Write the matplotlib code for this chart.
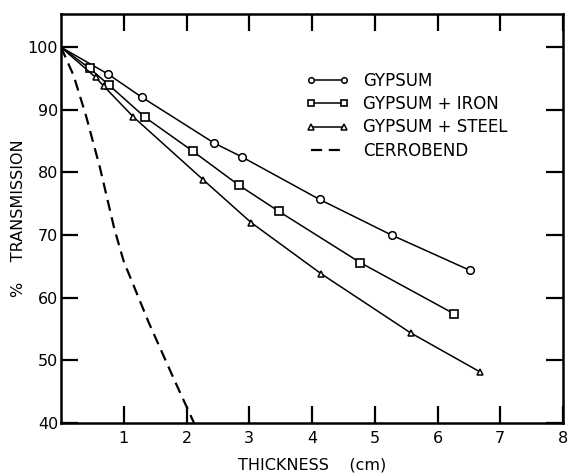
import matplotlib
matplotlib.use("Agg")
import matplotlib.pyplot as plt

# values
gyp_x = [0.0, 0.75, 1.29, 2.44, 2.88, 4.12, 5.27, 6.51]
gyp_y = [100.0, 95.7, 92.0, 84.7, 82.5, 75.7, 70.0, 64.4]

iron_x = [0.0, 0.46, 0.76, 1.34, 2.10, 2.83, 3.47, 4.77, 6.27]
iron_y = [100.0, 96.6, 94.0, 88.8, 83.4, 78.0, 73.8, 65.6, 57.4]

steel_x = [0.0, 0.55, 0.68, 1.15, 2.27, 3.03, 4.15, 5.57, 6.67]
steel_y = [100.0, 95.2, 93.8, 88.9, 78.8, 72.0, 63.8, 54.4, 48.2]

cerro_x = [0.0, 0.2, 0.4, 0.62, 0.85, 1.0, 1.4, 1.8, 2.12]
cerro_y = [100.0, 95.5, 89.0, 80.8, 71.0, 65.8, 56.0, 47.0, 40.0]

x_ticks = [1, 2, 3, 4, 5, 6, 7, 8]
y_ticks = [40, 50, 60, 70, 80, 90, 100]

plt.rcParams['font.family'] = ['DejaVu Sans']

fig = plt.figure(figsize=(5.7, 4.75), dpi=100)
ax = fig.add_axes([61 / 570, 1 - 423 / 475, (563 - 61) / 570, (423 - 14) / 475])

ax.plot(gyp_x, gyp_y, color='black', lw=1.1, marker='o', ms=5.5,
        mfc='white', mec='black', mew=1.1, label='GYPSUM', markevery=list(range(1, len(gyp_x))))
ax.plot(iron_x, iron_y, color='black', lw=1.1, marker='s', ms=5.5,
        mfc='white', mec='black', mew=1.2, label='GYPSUM + IRON', markevery=list(range(1, len(iron_x))))
ax.plot(steel_x, steel_y, color='black', lw=1.1, marker='^', ms=5,
        mfc='white', mec='black', mew=1.1, label='GYPSUM + STEEL', markevery=list(range(1, len(steel_x))))
ax.plot(cerro_x, cerro_y, color='black', lw=1.6, ls=(0, (5, 3)), label='CERROBEND')

ax.set_xlim(0, 8)
ax.set_ylim(40, 105.3)
ax.set_xticks(x_ticks)
ax.set_yticks(y_ticks)

ax.tick_params(axis='both', which='both', direction='in', top=True, right=True,
               length=12, width=1.6, labelsize=11.5)
ax.tick_params(axis='y', pad=2)
ax.tick_params(axis='x', pad=6)
for s in ax.spines.values():
    s.set_linewidth(1.8)

ax.set_xlabel('THICKNESS    (cm)', fontsize=11.5, labelpad=8)
ax.set_ylabel('%    TRANSMISSION', fontsize=11.5, labelpad=1)

leg = ax.legend(loc='upper left', bbox_to_anchor=(0.475, 0.875), frameon=False,
                fontsize=12, numpoints=2, handlelength=2.6, handletextpad=0.8,
                labelspacing=0.32, borderaxespad=0)
for h in leg.legend_handles:
    h.set_markersize(4)
    h.set_markevery(None)

fig.savefig('out.png', dpi=100)
